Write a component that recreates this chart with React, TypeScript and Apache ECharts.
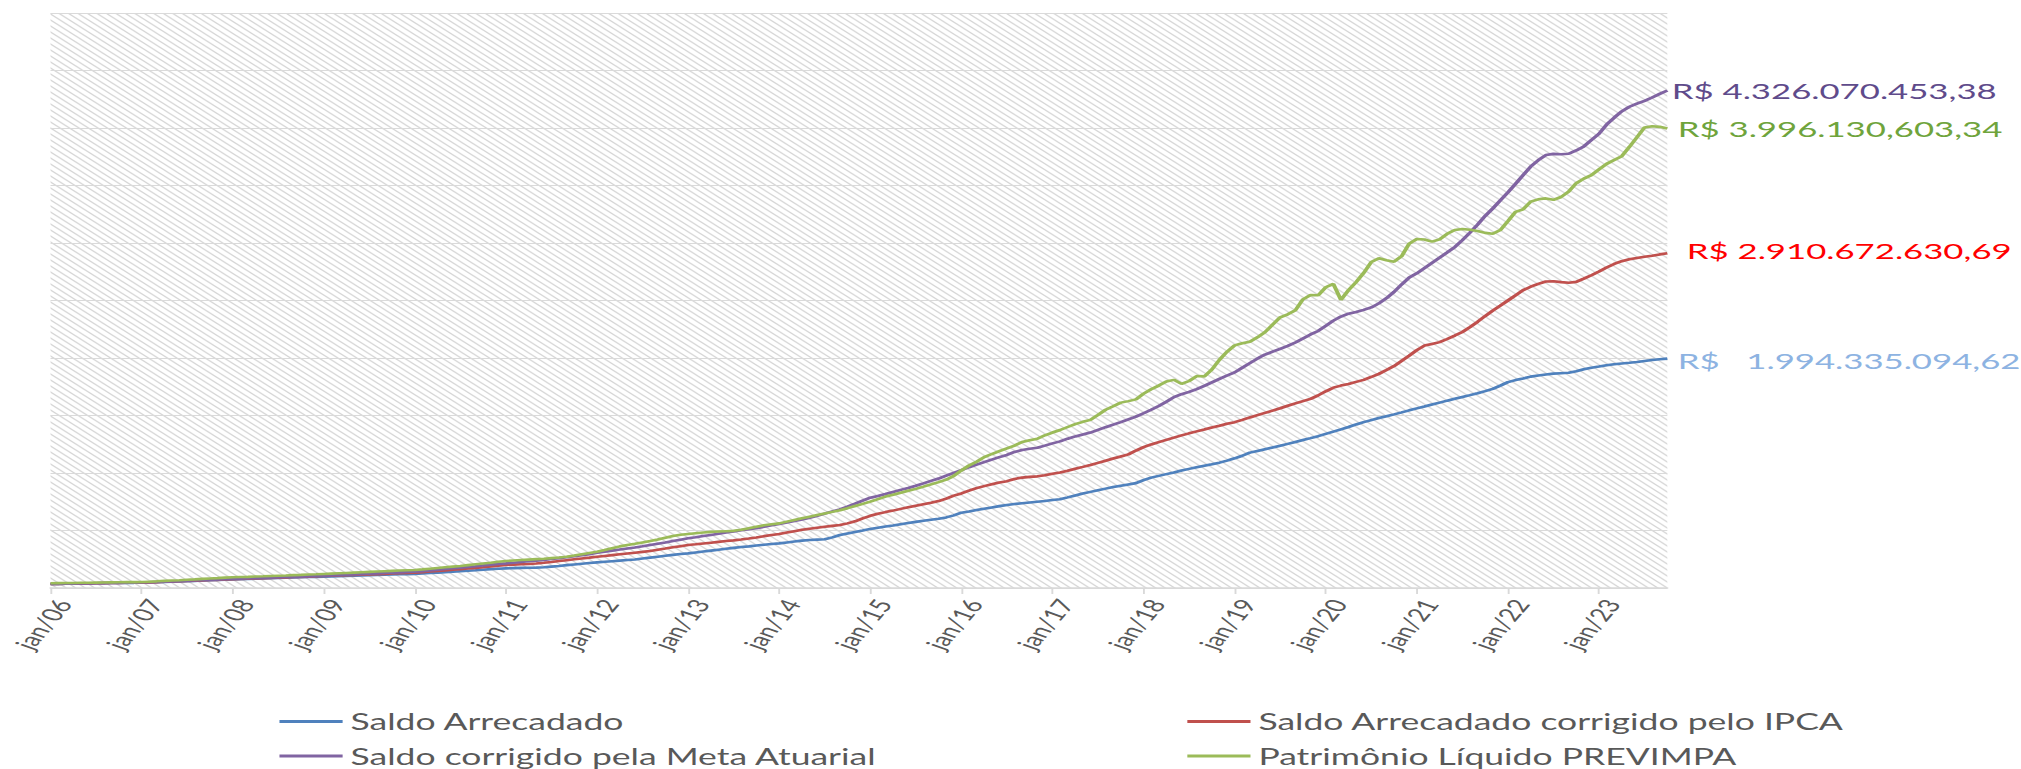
import { useEffect, useRef } from "react";
import * as echarts from "echarts";

// ---------- data (values in R$ millions) ----------
const MONTHS = ["jan", "fev", "mar", "abr", "mai", "jun", "jul", "ago", "set", "out", "nov", "dez"];
const YEARS = ["06", "07", "08", "09", "10", "11", "12", "13", "14", "15", "16", "17", "18", "19", "20", "21", "22", "23"];
const MONTHS_IN_LAST_YEAR = 10; // jan/23 .. out/23

const SERIES_NAMES = [
  "Saldo Arrecadado",
  "Saldo Arrecadado corrigido pelo IPCA",
  "Saldo corrigido pela Meta Atuarial",
  "Patrimônio Líquido PREVIMPA",
];

const END_LABELS = [
  "R$   1.994.335.094,62",
  "R$ 2.910.672.630,69",
  "R$ 4.326.070.453,38",
  "R$ 3.996.130,603,34",
];

const SALDO_ARRECADADO = [
  35, 36, 37, 38, 39, 40, 41, 42, 43, 44, 45, 45,
  46, 48, 50, 52, 55, 57, 60, 62, 65, 68, 70, 73,
  75, 77, 79, 81, 83, 85, 87, 89, 91, 93, 95, 97,
  99, 101, 103, 105, 107, 109, 111, 113, 115, 117, 119, 121,
  122, 126, 130, 134, 138, 142, 146, 150, 154, 159, 164, 168,
  171, 173, 175, 176, 177, 180, 186, 192, 199, 205, 211, 217,
  223, 228, 233, 238, 243, 248, 256, 264, 272, 280, 288, 295,
  301, 309, 317, 325, 333, 341, 349, 356, 362, 369, 376, 382,
  388, 396, 404, 412, 418, 421, 424, 440, 461, 474, 487, 500,
  514, 524, 534, 544, 555, 565, 575, 584, 593, 602, 614, 632,
  655, 666, 678, 690, 701, 712, 722, 730, 737, 744, 750, 756,
  765, 772, 788, 805, 821, 836, 850, 864, 878, 890, 901, 912,
  938, 960, 975, 990, 1005, 1022, 1036, 1050, 1063, 1076, 1090, 1108,
  1128, 1150, 1177, 1192, 1207, 1222, 1237, 1253, 1270, 1287, 1303, 1320,
  1340, 1360, 1380, 1400, 1422, 1442, 1460, 1478, 1494, 1510, 1527, 1545,
  1562, 1578, 1595, 1612, 1629, 1645, 1661, 1677, 1694, 1712, 1732, 1760,
  1790, 1808, 1822, 1838, 1848, 1857, 1864, 1868, 1872, 1885, 1902, 1916,
  1926, 1937, 1946, 1952, 1958, 1965, 1974, 1982, 1989, 1994.335,
];

const SALDO_IPCA = [
  35, 36, 37, 38, 39, 40, 41, 42, 43, 44, 45, 46,
  47, 49, 51, 54, 56, 59, 61, 64, 66, 69, 71, 74,
  76, 78, 81, 83, 85, 88, 90, 92, 95, 97, 99, 102,
  104, 106, 109, 111, 114, 116, 118, 121, 123, 126, 128, 131,
  133, 138, 143, 148, 153, 158, 163, 169, 175, 181, 188, 194,
  200, 203, 206, 209, 213, 219, 226, 234, 242, 250, 257, 264,
  272, 279, 286, 293, 300, 307, 314, 322, 333, 343, 354, 364,
  374, 380, 387, 394, 401, 408, 414, 421, 430, 440, 451, 461,
  470, 482, 494, 506, 516, 524, 532, 540, 548, 562, 580, 605,
  628, 645, 660, 673, 688, 702, 716, 729, 742, 756, 778, 803,
  822, 846, 868, 886, 902, 918, 929, 948, 960, 966, 971, 980,
  993, 1005, 1020, 1037, 1053, 1070, 1088, 1107, 1126, 1144, 1162, 1195,
  1225, 1248, 1268, 1288, 1308, 1327, 1345, 1362, 1378, 1395, 1411, 1428,
  1442, 1462, 1483, 1503, 1523, 1543, 1563, 1585, 1605, 1625, 1645, 1675,
  1710, 1742, 1760, 1774, 1792, 1810, 1835, 1862, 1895, 1930, 1975, 2020,
  2068, 2108, 2122, 2138, 2165, 2195, 2226, 2268, 2315, 2365, 2412, 2455,
  2500, 2545, 2590, 2620, 2645, 2665, 2668, 2660, 2655, 2662, 2690, 2720,
  2752, 2787, 2818, 2842, 2858, 2870, 2880, 2890, 2901, 2910.673,
];

const SALDO_META = [
  35, 36, 37, 38, 39, 40, 41, 42, 43, 44, 45, 46,
  48, 50, 53, 55, 58, 60, 63, 65, 68, 71, 73, 76,
  78, 80, 83, 85, 87, 90, 92, 95, 97, 99, 101, 104,
  106, 109, 112, 115, 118, 121, 124, 127, 130, 133, 136, 139,
  142, 147, 153, 159, 165, 171, 177, 183, 189, 196, 203, 209,
  214, 220, 226, 232, 238, 244, 252, 260, 268, 276, 284, 294,
  306, 316, 325, 334, 344, 353, 363, 374, 385, 396, 408, 420,
  432, 441, 452, 461, 471, 482, 492, 502, 512, 519, 532, 545,
  557, 569, 582, 595, 610, 628, 647, 666, 684, 708, 733, 760,
  785, 800, 817, 835, 853, 870, 889, 910, 932, 952, 977, 1002,
  1025, 1050, 1073, 1095, 1117, 1138, 1157, 1183, 1200, 1210, 1220, 1238,
  1258, 1275, 1298, 1318, 1335, 1352, 1375, 1398, 1420, 1442, 1466, 1490,
  1520, 1550, 1582, 1620, 1660, 1685, 1705, 1730, 1758, 1788, 1818, 1848,
  1875, 1915, 1955, 1995, 2030, 2055, 2080, 2105, 2135, 2170, 2205, 2235,
  2280, 2325, 2360, 2385, 2400, 2418, 2440, 2475, 2520, 2575, 2640, 2700,
  2736, 2782, 2828, 2872, 2918, 2965, 3025, 3090, 3160, 3235, 3300, 3370,
  3440, 3515, 3590, 3665, 3720, 3765, 3775, 3772, 3776, 3805, 3840, 3895,
  3950, 4030, 4090, 4145, 4185, 4212, 4236, 4265, 4297, 4326.07,
];

const PATRIMONIO = [
  41, 42, 43, 44, 45, 46, 47, 48, 49, 50, 51, 51,
  52, 55, 58, 62, 65, 68, 72, 75, 79, 83, 86, 90,
  93, 95, 97, 100, 102, 105, 107, 109, 112, 114, 117, 119,
  122, 125, 128, 131, 134, 137, 140, 143, 146, 149, 152, 155,
  157, 162, 168, 174, 180, 186, 192, 199, 206, 213, 220, 228,
  235, 239, 243, 247, 251, 255, 260, 265, 271, 282, 294, 305,
  315, 330, 346, 362, 373, 384, 396, 408, 422, 437, 452, 463,
  470, 476, 482, 488, 491, 494, 497, 507, 520, 533, 545, 554,
  562, 577, 592, 606, 620, 634, 648, 662, 676, 694, 713, 732,
  751, 773, 795, 811, 828, 845, 862, 881, 901, 921, 942, 975,
  1022, 1065, 1098, 1138, 1165, 1190, 1214, 1238, 1270, 1285, 1298, 1328,
  1352, 1374, 1400, 1425, 1445, 1462, 1505, 1550, 1580, 1612, 1625, 1640,
  1690, 1728, 1760, 1795, 1810, 1775, 1800, 1843, 1840, 1900, 1985, 2055,
  2110, 2128, 2142, 2180, 2225, 2290, 2354, 2380, 2415, 2510, 2548, 2545,
  2615, 2645, 2505, 2590, 2660, 2740, 2835, 2867, 2850, 2838, 2885, 2995,
  3035, 3030, 3012, 3032, 3080, 3113, 3122, 3115, 3105, 3088, 3080, 3113,
  3190, 3270, 3293, 3360, 3380, 3388, 3376, 3400, 3446, 3520, 3560, 3590,
  3640, 3688, 3722, 3755, 3835, 3920, 4005, 4015, 4010, 3996.131,
];

const SERIES_VALUES = [SALDO_ARRECADADO, SALDO_IPCA, SALDO_META, PATRIMONIO];

// ---------- styles ----------
const LINE_COLORS = ["#4F81BD", "#C0504D", "#8064A2", "#9BBB59"];
const END_LABEL_COLORS = ["#8DB3E2", "#FF0000", "#5F4B8B", "#6FA43C"];
const END_LABEL_DISTANCE = [6.6, 12.3, 2.8, 6.6];
const END_LABEL_OFFSET = [[0, 1.5], [0, -3], [0, 0], [0, 0]];

const FONT = "Lato, 'Open Sans', sans-serif";
const BASE_W = 1280;
const FULL_W = 2021;
const FULL_H = 769;

const CATEGORIES: string[] = [];
YEARS.forEach((y, yi) => {
  const count = yi === YEARS.length - 1 ? MONTHS_IN_LAST_YEAR : 12;
  for (let m = 0; m < count; m++) CATEGORIES.push(`${MONTHS[m]}/${y}`);
});

const HATCH =
  "data:image/svg+xml;utf8," +
  encodeURIComponent(
    '<svg xmlns="http://www.w3.org/2000/svg" width="6" height="6">' +
      '<rect width="6" height="6" fill="#ffffff"/>' +
      '<path d="M-1,-1 L7,7 M-1,5 L1,7 M5,-1 L7,1" stroke="#d6d6d6" stroke-width="1.1" fill="none"/>' +
      "</svg>"
  );

const isJanuary = (index: number) => index % 12 === 0;

export default function App() {
  const ref = useRef<HTMLDivElement>(null);

  useEffect(() => {
    document.body.style.margin = "0";
    document.body.style.overflow = "hidden";
    if (!ref.current) return;
    const chart = echarts.init(ref.current, undefined, { renderer: "svg" });

    const legendText = { fontSize: 22.5, color: "#595959", fontFamily: FONT, lineHeight: 24 };
    const legendBase = {
      orient: "vertical",
      top: 709.5,
      height: 62,
      padding: 0,
      itemWidth: 40,
      itemHeight: 3,
      itemGap: 10.5,
      icon: "rect",
      textStyle: legendText,
      selectedMode: false,
    };

    chart.setOption({
      animation: false,
      backgroundColor: "#ffffff",
      grid: {
        left: 32,
        right: 224,
        top: 13,
        bottom: 181,
        show: true,
        borderWidth: 0,
        backgroundColor: { image: HATCH, repeat: "repeat", imageWidth: 6, imageHeight: 6 },
        containLabel: false,
        outerBoundsMode: "none",
      },
      legend: [
        { ...legendBase, data: [SERIES_NAMES[0], SERIES_NAMES[2]], left: 177 },
        { ...legendBase, data: [SERIES_NAMES[1], SERIES_NAMES[3]], left: 752 },
      ],
      xAxis: {
        type: "category",
        data: CATEGORIES,
        boundaryGap: false,
        axisLine: { show: true, lineStyle: { color: "#d9d9d9", width: 1.5 } },
        axisTick: { show: true, interval: isJanuary, length: 6, lineStyle: { color: "#d9d9d9", width: 1.2 } },
        axisLabel: {
          interval: isJanuary,
          rotate: 61,
          margin: 8,
          fontSize: 18.5,
          color: "#595959",
          fontFamily: FONT,
          verticalAlign: "top",
        },
        splitLine: { show: false },
      },
      yAxis: {
        type: "value",
        min: 0,
        max: 5000,
        interval: 500,
        axisLabel: { show: false },
        axisLine: { show: false },
        axisTick: { show: false },
        splitLine: { show: true, lineStyle: { color: "#dadada", width: 1 } },
      },
      series: SERIES_NAMES.map((name, i) => ({
        name,
        type: "line",
        data: SERIES_VALUES[i],
        symbol: "none",
        smooth: false,
        lineStyle: { color: LINE_COLORS[i], width: 2.6 },
        itemStyle: { color: LINE_COLORS[i] },
        endLabel: {
          show: true,
          formatter: END_LABELS[i],
          color: END_LABEL_COLORS[i],
          fontSize: 22,
          fontFamily: FONT,
          distance: END_LABEL_DISTANCE[i],
          offset: END_LABEL_OFFSET[i],
        },
        z: 2 + i,
      })),
    });

    return () => chart.dispose();
  }, []);

  return (
    <div style={{ position: "fixed", left: 0, top: 0, width: FULL_W, height: FULL_H, overflow: "hidden", background: "#fff" }}>
      <div
        ref={ref}
        style={{
          width: BASE_W,
          height: FULL_H,
          transform: `scaleX(${FULL_W / BASE_W})`,
          transformOrigin: "0 0",
        }}
      />
    </div>
  );
}
